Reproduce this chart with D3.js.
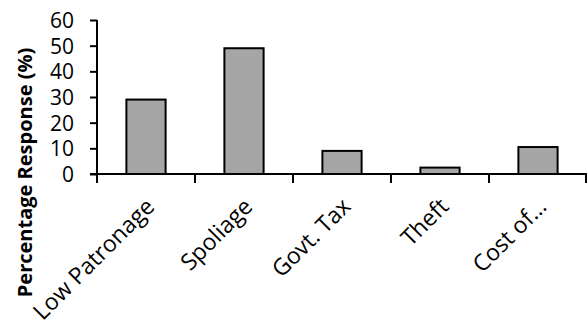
<!DOCTYPE html>
<html>
<head>
<meta charset="utf-8">
<script src="https://cdn.jsdelivr.net/npm/d3@7"></script>
<style>
  body { margin: 0; background: #fff; }
  text { font-family: "Open Sans", sans-serif; fill: #000; }
</style>
</head>
<body>
<div id="chartRegion"></div>
<script>
/* chart data */
var categories = ["Low Patronage", "Spoliage", "Govt. Tax", "Theft", "Cost of…"];
var responses = [29, 49, 9, 2.5, 10.5];
var yTicks = [0, 10, 20, 30, 40, 50, 60];
var yTitle = "Percentage Response (%)";

var width = 588, height = 320;
var mLeft = 97, mRight = 587, mTop = 20, mBottom = 174;

var svg = d3.select("#chartRegion").append("svg")
	.attr("width", width).attr("height", height);

var x = d3.scaleBand().domain(categories).range([mLeft, mRight]).paddingInner(0.6).paddingOuter(0.3);
var xTick = d3.scaleBand().domain(categories).range([mLeft, mRight]);
var y = d3.scaleLinear().domain([0, 60]).range([mBottom, mTop]);

/* bars */
svg.selectAll("rect.bar").data(responses).enter().append("rect")
	.attr("class", "bar")
	.attr("x", function(d, i) { return x(categories[i]); })
	.attr("y", function(d) { return y(d); })
	.attr("width", x.bandwidth())
	.attr("height", function(d) { return y(0) - y(d); })
	.attr("fill", "#a6a6a6")
	.attr("stroke", "#000")
	.attr("stroke-width", 2);

/* y axis */
var yAxis = svg.append("g").attr("transform", "translate(" + mLeft + ",0)")
	.call(d3.axisLeft(y).tickValues(yTicks).tickSize(7).tickPadding(16));
yAxis.select(".domain").attr("stroke-width", 2).attr("d", "M0," + mTop + "V" + mBottom);
yAxis.selectAll(".tick line").attr("stroke-width", 2);
yAxis.selectAll(".tick text").style("font-size", "21px").attr("dy", "0.36em");

/* x axis: ticks at band edges */
var xAxisG = svg.append("g").attr("transform", "translate(0," + mBottom + ")");
xAxisG.append("line").attr("x1", mLeft - 7).attr("x2", mRight).attr("stroke", "#000").attr("stroke-width", 2);
var edges = categories.map(function(c) { return xTick(c); }).concat([mRight - 1]);
xAxisG.selectAll("line.tk").data(edges).enter().append("line")
	.attr("class", "tk")
	.attr("x1", function(d) { return d; }).attr("x2", function(d) { return d; })
	.attr("y1", 0).attr("y2", 9)
	.attr("stroke", "#000").attr("stroke-width", 2);

xAxisG.selectAll("text.lbl").data(categories).enter().append("text")
	.attr("class", "lbl")
	.attr("transform", function(c) {
		return "translate(" + (xTick(c) + xTick.bandwidth() / 2 + 10) + ",34) rotate(-45)";
	})
	.attr("text-anchor", "end")
	.style("font-size", "23px")
	.text(function(c) { return c; });

/* y title */
svg.append("text")
	.attr("transform", "translate(32," + ((mTop + 305) / 2 + 10) + ") rotate(-90)")
	.attr("text-anchor", "middle")
	.style("font-size", "20px")
	.style("font-weight", "bold")
	.text(yTitle);
</script>
</body>
</html>
